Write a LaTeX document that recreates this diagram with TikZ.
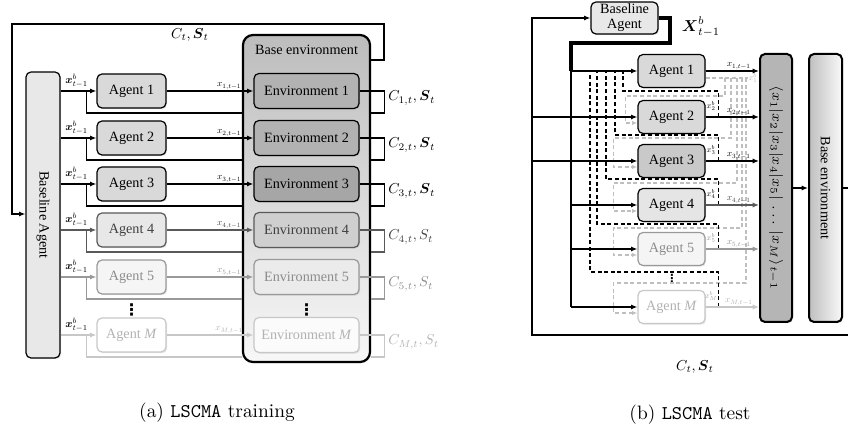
\documentclass[tikz,border=0pt]{standalone}
\usepackage{fontspec}
\usepackage{amsmath}
\newfontfamily\tnr{Liberation Serif}
\newfontfamily\djv{DejaVu Sans}
\usetikzlibrary{arrows.meta,calc,shadows}

\begin{document}
\begin{tikzpicture}[x=0.5pt,y=-0.5pt,
  font=\tnr\fontsize{7.1}{8.5}\selectfont,
  box/.style={draw,rounded corners=2.5pt,line width=0.6pt,inner sep=1pt,
    drop shadow={opacity=0.2,shadow xshift=0.6pt,shadow yshift=-0.6pt}},
  agent/.style={box,minimum width=34.5pt,minimum height=17pt},
  env/.style={box,minimum width=52.5pt,minimum height=17.5pt},
  agentb/.style={box,minimum width=33.5pt,minimum height=16.5pt},
  ln/.style={line width=0.75pt},
  arr/.style={ln,-{Latex[length=3.2pt,width=2.6pt]}},
  outer/.style={line width=0.9pt},
  bdash/.style={line width=0.8pt,dash pattern=on 2pt off 1.3pt},
  gdash/.style={line width=0.6pt,draw=black!25,dash pattern=on 2pt off 1.3pt},
  xb/.style={font=\fontsize{10}{12}\selectfont,scale=0.55,inner sep=0.5pt},
  xl/.style={font=\fontsize{10}{12}\selectfont,scale=0.46,inner sep=1.5pt},
  xs/.style={font=\fontsize{10}{12}\selectfont,scale=0.42,inner sep=0.5pt},
  cl/.style={font=\fontsize{10}{12}\selectfont,scale=0.72,inner sep=1pt},
  dots/.style={font=\djv\bfseries\fontsize{8}{8}\selectfont,inner sep=0pt,text height=5.5pt,text depth=0pt},
  r4/.style={draw=black!65,text=black!75},
  r5/.style={draw=black!40,text=black!45},
  rM/.style={draw=black!22,text=black!30}]
\useasboundingbox (0,0) rectangle (848,432);
% (a) training
\node[box,fill=gray!18,rotate=-90,minimum width=143pt,minimum height=17pt] (bla) at (43,215) {Baseline Agent};
\node[box,rounded corners=5pt,line width=1.1pt,top color=gray!52,bottom color=gray!6,
  minimum width=63.5pt,minimum height=163.5pt] (be) at (306.5,198.5) {};
\node (bel) at (306.5,50) {Base environment};
\coordinate (tr) at (384,24);
\coordinate (tl) at (12,24);
\draw[outer,-{Latex[length=3.2pt,width=2.6pt]}] (be.east |- 0,60) -| (tr) -- (tl) |- (bla.south |- 0,214);
\node[cl] (cta) at (190,35) {$C_t,\boldsymbol{S}_t$};

\node[agent,fill=gray!30] (a1) at (131.5,91) {Agent 1};
\node[env,fill=gray!60] (e1) at (306.5,91) {Environment 1};
\draw[arr] (bla.north |- a1) -- (a1);
\node[xb] (xa1) at ($(bla.north |- a1)+(16,-10)$) {$\boldsymbol{x}^b_{t-1}$};
\draw[arr] (a1) -- node[xl,pos=0.72,above] (xe1) {$x_{1,t-1}$} (e1);
\draw[ln] ($(a1.west)+(-10,0)$) |- ($(be.west |- a1)+(0,22)$);
\draw[ln] (e1.east) -- ++(25,0) |- ($(be.east |- e1)+(0,22)$);
\node[cl,anchor=west] (c1) at ($(e1.east)+(27,7)$) {$C_{1,t},\boldsymbol{S}_t$};

\node[agent,fill=gray!30] (a2) at (131.5,138) {Agent 2};
\node[env,fill=gray!60] (e2) at (306.5,138) {Environment 2};
\draw[arr] (bla.north |- a2) -- (a2);
\node[xb] (xa2) at ($(bla.north |- a2)+(16,-10)$) {$\boldsymbol{x}^b_{t-1}$};
\draw[arr] (a2) -- node[xl,pos=0.72,above] (xe2) {$x_{2,t-1}$} (e2);
\draw[ln] ($(a2.west)+(-10,0)$) |- ($(be.west |- a2)+(0,22)$);
\draw[ln] (e2.east) -- ++(25,0) |- ($(be.east |- e2)+(0,22)$);
\node[cl,anchor=west] (c2) at ($(e2.east)+(27,7)$) {$C_{2,t},\boldsymbol{S}_t$};

\node[agent,fill=gray!30] (a3) at (131.5,184) {Agent 3};
\node[env,fill=gray!70] (e3) at (306.5,184) {Environment 3};
\draw[arr] (bla.north |- a3) -- (a3);
\node[xb] (xa3) at ($(bla.north |- a3)+(16,-10)$) {$\boldsymbol{x}^b_{t-1}$};
\draw[arr] (a3) -- node[xl,pos=0.72,above] (xe3) {$x_{3,t-1}$} (e3);
\draw[ln] ($(a3.west)+(-10,0)$) |- ($(be.west |- a3)+(0,22)$);
\draw[ln] (e3.east) -- ++(25,0) |- ($(be.east |- e3)+(0,22)$);
\node[cl,anchor=west] (c3) at ($(e3.east)+(27,7)$) {$C_{3,t},\boldsymbol{S}_t$};

\node[agent,r4,fill=gray!18] (a4) at (131.5,230) {Agent 4};
\node[env,r4,fill=gray!38] (e4) at (306.5,230) {Environment 4};
\draw[arr,r4] (bla.north |- a4) -- (a4);
\node[xb] (xa4) at ($(bla.north |- a4)+(16,-10)$) {$\boldsymbol{x}^b_{t-1}$};
\draw[arr,r4] (a4) -- node[xl,pos=0.72,above] (xe4) {$x_{4,t-1}$} (e4);
\draw[ln,r4] ($(a4.west)+(-10,0)$) |- ($(be.west |- a4)+(0,22)$);
\draw[ln,r4] (e4.east) -- ++(25,0) |- ($(be.east |- e4)+(0,22)$);
\node[cl,anchor=west,text=black!75] (c4) at ($(e4.east)+(27,7)$) {$C_{4,t},S_t$};

\node[agent,r5,fill=gray!8] (a5) at (131.5,277) {Agent 5};
\node[env,r5,fill=gray!16] (e5) at (306.5,277) {Environment 5};
\draw[arr,r5] (bla.north |- a5) -- (a5);
\node[xb] (xa5) at ($(bla.north |- a5)+(16,-10)$) {$\boldsymbol{x}^b_{t-1}$};
\draw[arr,r5] (a5) -- node[xl,pos=0.72,above] (xe5) {$x_{5,t-1}$} (e5);
\draw[ln,r5] ($(a5.west)+(-10,0)$) |- ($(be.west |- a5)+(0,22)$);
\draw[ln,r5] (e5.east) -- ++(25,0) |- ($(be.east |- e5)+(0,22)$);
\node[cl,anchor=west,text=black!45] (c5) at ($(e5.east)+(27,7)$) {$C_{5,t},S_t$};

\node[dots] (ad) at (131.5,310) {⋮};
\node[dots] (ed) at (306.5,310) {⋮};

\node[agent,rM,fill=white] (aM) at (131.5,335) {Agent \textit{M}};
\node[env,rM,fill=gray!3] (eM) at (306.5,335) {Environment \textit{M}};
\draw[arr,rM] (bla.north |- aM) -- (aM);
\node[xb] (xaM) at ($(bla.north |- aM)+(16,-10)$) {$\boldsymbol{x}^b_{t-1}$};
\draw[arr,rM] (aM) -- node[xl,pos=0.72,above] (xeM) {$x_{M,t-1}$} (eM);
\draw[ln,rM] ($(aM.west)+(-10,0)$) |- ($(be.west |- aM)+(0,22)$);
\draw[ln,rM] (eM.east) -- ++(25,0) |- ($(be.east |- eM)+(0,22)$);
\node[cl,anchor=west,text=black!30] (cM) at ($(eM.east)+(27,7)$) {$C_{M,t},S_t$};

\node[font=\rmfamily\fontsize{9.7}{11}\selectfont] (capa) at (217,413) {(a) \texttt{LSCMA} training};

% (b) test
\node[box,fill=gray!18,align=center,minimum width=33.5pt,minimum height=16pt,inner sep=0pt,
  font=\tnr\fontsize{7.1}{7.4}\selectfont] (bba) at (624.5,18) {Baseline\\Agent};
\coordinate (bl) at (532,335);
\coordinate (br) at (860,335);
\draw[line width=1.1pt,-{Latex[length=3.2pt,width=2.6pt]}] (br) -- (bl) |- (bba);
\node[cl] (ctb) at (695,367) {$C_t,\boldsymbol{S}_t$};
\coordinate (xb1) at (670,43);
\coordinate (xb2) at (571,43);
\node[cl,anchor=west,scale=1.1] (xbt) at (680,27) {$\boldsymbol{X}^b_{t-1}$};

\node[agentb,fill=gray!30] (b1) at (671.5,71) {Agent 1};
\node[agentb,fill=gray!30] (b2) at (671.5,117) {Agent 2};
\node[agentb,fill=gray!42] (b3) at (671.5,161) {Agent 3};
\node[agentb,fill=gray!20] (b4) at (671.5,205) {Agent 4};
\node[agentb,r5,fill=gray!8] (b5) at (671.5,249) {Agent 5};
\node[agentb,rM,fill=white] (bM) at (671.5,307) {Agent \textit{M}};
\node[dots,scale=0.7] (bd) at (672,279) {⋮};

\node[box,fill=gray!58,line width=1pt,rotate=-90,minimum width=134pt,minimum height=16pt,
  font=\fontsize{7}{8}\selectfont] (cc) at (776,188) {$\langle x_1|x_2|x_3|x_4|x_5|\,\dots\,|x_M\rangle_{t-1}$};
\node[box,left color=gray!50,right color=gray!5,line width=1pt,rotate=-90,
  minimum width=134pt,minimum height=16.5pt] (bev) at (825.5,188) {Base environment};
\draw[arr] (cc) -- (bev);
\draw[ln] (bev.north) -- ++(14,0);

% gray x^b paths
\coordinate (g1) at (748,78);
\coordinate (g2) at (725,78);
\coordinate (g3) at (731,78);
\coordinate (g4) at (737,78);
\coordinate (g5) at (742,78);
\coordinate (gM) at (746,78);
\draw[gdash] ($(b1.east)+(0,7)$) -- (g1);
\node[xs,text=black!30,anchor=west] (xs1) at (g1) {$x^b_1$};
\draw[gdash,-{Latex[length=2.6pt,width=2pt]}] (g2) |- ($(b2.west)+(-12,-21)$) |- ($(b2.west)+(0,6)$);
\draw[gdash,-{Latex[length=2.6pt,width=2pt]}] (g3) |- ($(b3.west)+(-24,-23)$) |- ($(b3.west)+(0,6)$);
\draw[gdash,-{Latex[length=2.6pt,width=2pt]}] (g4) |- ($(b4.west)+(-24,-22)$) |- ($(b4.west)+(0,6)$);
\draw[gdash,-{Latex[length=2.6pt,width=2pt]}] (g5) |- ($(b5.west)+(-24,-21)$) |- ($(b5.west)+(0,6)$);
\draw[gdash,-{Latex[length=2.6pt,width=2pt]}] (gM) |- ($(bM.west)+(-24,-24)$) |- ($(bM.west)+(0,6)$);

% black x^b paths
\coordinate (k2) at (623,71);
\coordinate (k3) at (615,71);
\coordinate (k4) at (606,71);
\coordinate (k5) at (597,71);
\coordinate (kM) at (590,71);
\draw[bdash] (b2.east) -- ++(13,0) -- ++(0,-26) -| (k2);
\draw[bdash] (b3.east) -- ++(13,0) -- ++(0,-26) -| (k3);
\draw[bdash] (b4.east) -- ++(13,0) -- ++(0,-26) -| (k4);
\draw[bdash] (b5.east) -- ++(13,0) -- ++(0,-25) -| (k5);
\draw[bdash] (bM.east) -- ++(13,0) -- ++(0,-35) -| (kM);
\node[xs] (xs2) at (711,106) {$x^b_2$};
\node[xs] (xs3) at (711,150) {$x^b_3$};
\node[xs] (xs4) at (711,194) {$x^b_4$};
\node[xs,text=black!45] (xs5) at (711,238) {$x^b_5$};
\node[xs,text=black!35] (xsM) at (711,296) {$x^b_M$};

% inputs
\draw[line width=1.8pt] (bba.east) -| (xb1) -- (xb2) -- (xb2 |- b1);
\draw[ln] (xb2 |- b1) -- (xb2 |- bM);
\draw[arr] (xb2 |- b1) -- (b1);
\draw[arr] (bl |- b2) -- (b2);
\draw[arr] (bl |- b3) -- (b3);
\draw[arr] (xb2 |- b4) -- (b4);
\draw[arr] (xb2 |- b5) -- (b5);
\draw[arr] (xb2 |- bM) -- (bM);

% outputs
\draw[arr] (b1) -- node[xl,pos=0.62,above] (xo1) {$x_{1,t-1}$} (cc.south |- b1);
\draw[arr] (b2) -- node[xl,pos=0.62,above] (xo2) {$x_{2,t-1}$} (cc.south |- b2);
\draw[arr] (b3) -- node[xl,pos=0.62,above] (xo3) {$x_{3,t-1}$} (cc.south |- b3);
\draw[arr,r4] (b4) -- node[xl,pos=0.62,above] (xo4) {$x_{4,t-1}$} (cc.south |- b4);
\draw[arr,r5] (b5) -- node[xl,pos=0.62,above] (xo5) {$x_{5,t-1}$} (cc.south |- b5);
\draw[arr,rM] (bM) -- node[xl,pos=0.62,above] (xoM) {$x_{M,t-1}$} (cc.south |- bM);

\node[font=\rmfamily\fontsize{9.7}{11}\selectfont] (capb) at (690,415) {(b) \texttt{LSCMA} test};
\end{tikzpicture}
\end{document}
